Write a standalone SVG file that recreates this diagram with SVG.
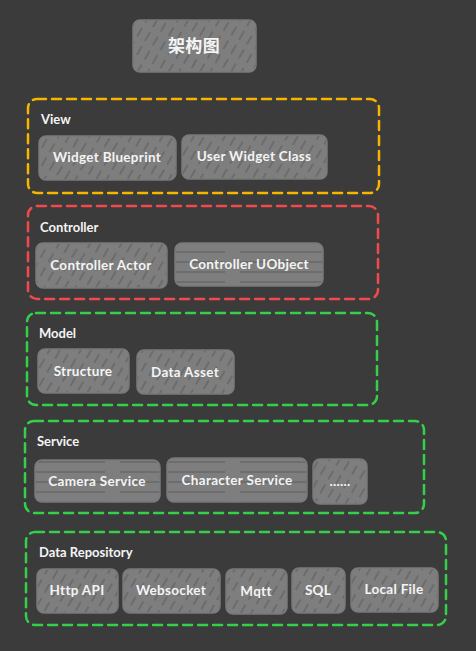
<svg xmlns="http://www.w3.org/2000/svg" width="476" height="651" viewBox="0 0 476 651">
<defs>
<pattern id="hd" width="9" height="16" patternUnits="userSpaceOnUse" patternTransform="rotate(30)">
<rect width="9" height="16" fill="#7e7e7e"/>
<line x1="2" y1="1" x2="2" y2="11" stroke="#5a5a5a" stroke-width="1"/>
</pattern>
<pattern id="hh" width="120" height="10" patternUnits="userSpaceOnUse">
<rect width="120" height="10" fill="#7e7e7e"/>
<line x1="0" y1="2" x2="105" y2="2" stroke="#5c5c5c" stroke-width="1"/>
</pattern>
<style>
.n rect{fill:url(#hd);stroke:#7a7a7a;stroke-width:1.5}
.n.h rect{fill:url(#hh)}
.n text{font-family:"Lato","Noto Sans",sans-serif;font-weight:700;font-size:13.5px;letter-spacing:0.3px;fill:#f4f4f4;text-anchor:middle}
.c rect{fill:none;stroke-width:2.5;stroke-dasharray:9 6;stroke-linecap:round}
.c text{font-family:"Lato","Noto Sans",sans-serif;font-weight:700;font-size:13px;fill:#f4f4f4}
</style>
</defs>
<rect width="476" height="651" fill="#3b3b3b"/>
<g id="title" class="n"><rect x="133" y="20" width="123" height="52" rx="7"/><text x="194" y="52" style="font-family:'Noto Sans CJK SC',sans-serif;font-size:17px">架构图</text></g>

<g id="view" class="c"><rect x="28" y="99" width="351" height="94" rx="9" stroke="#f7b500"/><text x="41" y="124">View</text></g>
<g id="widget-blueprint" class="n"><rect x="39" y="136" width="137" height="44" rx="7"/><text x="107" y="162">Widget Blueprint</text></g>
<g id="user-widget-class" class="n"><rect x="182" y="135" width="145" height="44" rx="7"/><text x="254" y="161">User Widget Class</text></g>

<g id="controller" class="c"><rect x="28" y="206" width="350" height="93" rx="9" stroke="#f24a4a"/><text x="40" y="232">Controller</text></g>
<g id="controller-actor" class="n"><rect x="36" y="243" width="131" height="45" rx="7"/><text x="101" y="270">Controller Actor</text></g>
<g id="controller-uobject" class="n h"><rect x="175" y="243" width="148" height="43" rx="7"/><text x="249" y="269">Controller UObject</text></g>

<g id="model" class="c"><rect x="27" y="313" width="350" height="92" rx="9" stroke="#33d14a"/><text x="39" y="338">Model</text></g>
<g id="structure" class="n"><rect x="38" y="349" width="91" height="44" rx="7"/><text x="83" y="376">Structure</text></g>
<g id="data-asset" class="n"><rect x="137" y="350" width="97" height="44" rx="7"/><text x="185" y="377">Data Asset</text></g>

<g id="service" class="c"><rect x="25" y="421" width="399" height="92" rx="9" stroke="#33d14a"/><text x="37" y="446">Service</text></g>
<g id="camera-service" class="n h"><rect x="35" y="460" width="125" height="42" rx="7"/><text x="97" y="486">Camera Service</text></g>
<g id="character-service" class="n h"><rect x="167" y="458" width="140" height="44" rx="7"/><text x="237" y="485">Character Service</text></g>
<g id="more" class="n"><rect x="313" y="459" width="54" height="45" rx="7"/><text x="340" y="486">......</text></g>

<g id="data-repository" class="c"><rect x="26" y="532" width="420" height="93" rx="9" stroke="#33d14a"/><text x="39" y="557">Data Repository</text></g>
<g id="http-api" class="n"><rect x="37" y="569" width="81" height="44" rx="7"/><text x="77" y="595">Http API</text></g>
<g id="websocket" class="n"><rect x="123" y="569" width="97" height="44" rx="7"/><text x="171" y="595">Websocket</text></g>
<g id="mqtt" class="n"><rect x="226" y="569" width="61" height="45" rx="7"/><text x="256" y="596">Mqtt</text></g>
<g id="sql" class="n"><rect x="292" y="568" width="53" height="45" rx="7"/><text x="318" y="595">SQL</text></g>
<g id="local-file" class="n"><rect x="351" y="568" width="87" height="44" rx="7"/><text x="394" y="594">Local File</text></g>

<g id="connectors"></g>
</svg>
